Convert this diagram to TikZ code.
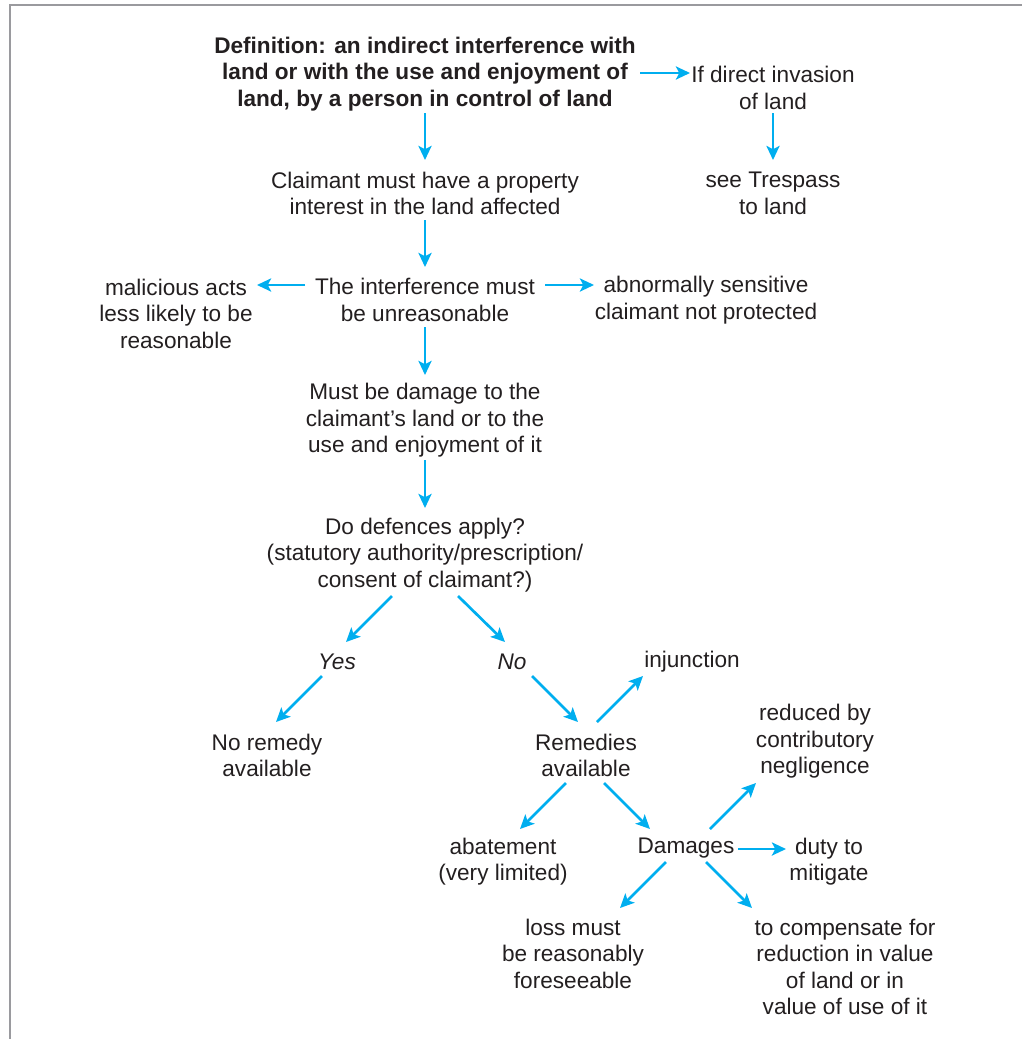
\documentclass[tikz,border=0pt]{standalone}
\usepackage{fontspec}
\setmainfont{Liberation Sans}
\usepackage{tikz}
\usetikzlibrary{arrows.meta, positioning, calc}
\definecolor{ink}{HTML}{231F20}
\definecolor{flow}{HTML}{00AEEF}
\definecolor{rule}{HTML}{9A9A9E}

\begin{document}
\begin{tikzpicture}[
    x=0.5pt, y=-0.5pt,
    txt/.style={align=center, inner sep=2pt, text=ink, font=\fontsize{11.3}{13.25}\selectfont},
    deftxt/.style={txt, font=\fontsize{11.3}{13.25}\selectfont\bfseries},
    choice/.style={txt, font=\fontsize{11.3}{13.25}\selectfont\itshape},
    arrow/.style={-{Stealth[length=7pt, width=6.5pt, inset=1.6pt]}, line width=1.35pt, flow},
    frame/.style={rule, line width=1pt}
]
\useasboundingbox (0,0) rectangle (1022,1039);

% Frame
\draw[frame] (10,1039) -- (10,5) -- (1022,5);

% Nodes
\node[deftxt] (def) at (425,74) {Definition: an indirect interference with\\land or with the use and enjoyment of\\land, by a person in control of land};
\node[txt] (direct) at (773,88) {If direct invasion\\of land};
\node[txt] (trespass) at (773,193.5) {see Trespass\\to land};
\node[txt] (claimant) at (425,193.5) {Claimant must have a property\\interest in the land affected};
\node[txt] (unreas) at (425,300) {The interference must\\be unreasonable};
\node[txt] (malicious) at (176,313.5) {malicious acts\\less likely to be\\reasonable};
\node[txt] (abnormal) at (706,300) {abnormally sensitive\\claimant not protected};
\node[txt] (damage) at (425,420.5) {Must be damage to the\\claimant's land or to the\\use and enjoyment of it};
\node[txt] (defences) at (425,555) {Do defences apply?\\(statutory authority/prescription/\\consent of claimant?)};
\node[choice] (yes) at (337,662) {Yes};
\node[choice] (no) at (512,662) {No};
\node[txt] (injunction) at (692,662) {injunction};
\node[txt] (noremedy) at (267,755.5) {No remedy\\available};
\node[txt] (remedies) at (586,755.5) {Remedies\\available};
\node[txt] (reduced) at (815,741.5) {reduced by\\contributory\\negligence};
\node[txt] (abatement) at (503,861.5) {abatement\\(very limited)};
\node[txt] (damages) at (686,848) {Damages};
\node[txt] (duty) at (829,861.5) {duty to\\mitigate};
\node[txt] (loss) at (573,953.5) {loss must\\be reasonably\\foreseeable};
\node[txt] (compensate) at (845,967) {to compensate for\\reduction in value\\of land or in\\value of use of it};

% Arrows
\draw[arrow] ($(def)+(215,-1)$) -- ($(direct)+(-83,-15)$);
\draw[arrow] ($(direct)+(0,25)$) -- ($(trespass)+(0,-33.5)$);
\draw[arrow] ($(def)+(0,39)$) -- ($(claimant)+(0,-33.5)$);
\draw[arrow] ($(claimant)+(0,26.5)$) -- ($(unreas)+(0,-33)$);
\draw[arrow] ($(unreas)+(-120,-15)$) -- ($(malicious)+(81,-28.5)$);
\draw[arrow] ($(unreas)+(120,-15)$) -- ($(abnormal)+(-112,-15)$);
\draw[arrow] ($(unreas)+(0,27)$) -- ($(damage)+(0,-45.5)$);
\draw[arrow] ($(damage)+(0,39.5)$) -- ($(defences)+(0,-47)$);
\draw[arrow] ($(defences)+(-33,41)$) -- ($(yes)+(9,-20)$);
\draw[arrow] ($(defences)+(33,41)$) -- ($(no)+(-7,-20)$);
\draw[arrow] ($(yes)+(-15,14)$) -- ($(noremedy)+(9,-33.5)$);
\draw[arrow] ($(no)+(20,14)$) -- ($(remedies)+(-8,-33.5)$);
\draw[arrow] ($(remedies)+(11,-33.5)$) -- ($(injunction)+(-49,14)$);
\draw[arrow] ($(remedies)+(-20,27.5)$) -- ($(abatement)+(17,-32.5)$);
\draw[arrow] ($(remedies)+(18,27.5)$) -- ($(damages)+(-36,-19)$);
\draw[arrow] ($(damages)+(24,-19)$) -- ($(reduced)+(-59,41.5)$);
\draw[arrow] ($(damages)+(52,1)$) -- ($(duty)+(-43,-12.5)$);
\draw[arrow] ($(damages)+(-20,14)$) -- ($(loss)+(47,-45.5)$);
\draw[arrow] ($(damages)+(20,14)$) -- ($(compensate)+(-93,-59)$);

\end{tikzpicture}
\end{document}
